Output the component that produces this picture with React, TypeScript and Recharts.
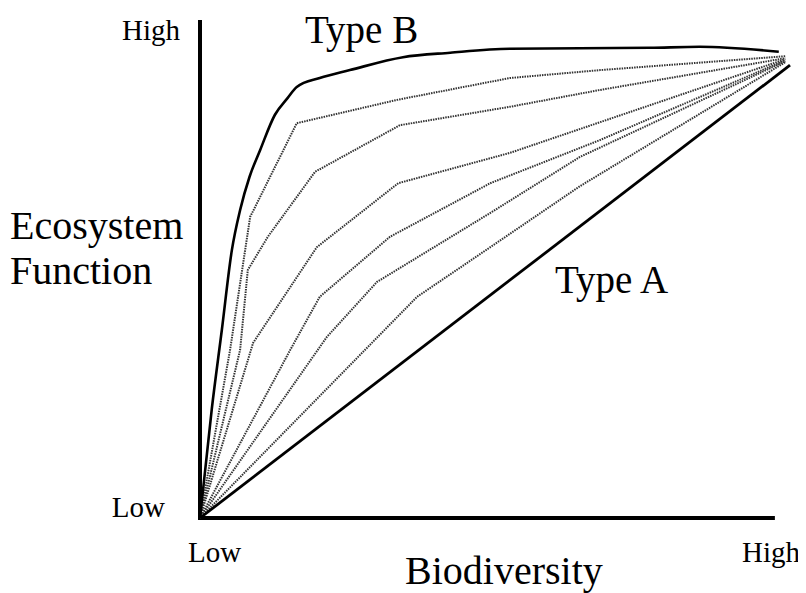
import { Line, LineChart, ReferenceLine, XAxis, YAxis } from "recharts";

// values, x = biodiversity (0-100), y = ecosystem function (0-100)
const typeB = [
  [0, 0], [2.0, 22.0], [3.7, 37.9], [5.4, 54.0], [6.8, 62.1], [8.4, 68.8], [10.2, 74.2], [12.7, 81.3],
  [14.8, 84.6], [16.4, 86.9], [20.3, 88.7], [25.4, 90.3], [34.4, 92.9], [42.4, 93.8], [52.5, 94.6],
  [76.3, 94.8], [84.7, 95.0], [98.1, 94.0],
];
const curve1 = [[0, 0], [5.1, 33.9], [8.5, 60.7], [16.4, 79.6], [33.4, 84.3], [52.5, 88.7], [67.8, 90.3], [99.2, 93.1]];
const curve2 = [[0, 0], [6.8, 33.9], [8.1, 50.0], [11.5, 56.7], [19.5, 69.8], [33.9, 79.2], [52.5, 82.9], [67.8, 86.3], [99.2, 92.7]];
const curve3 = [[0, 0], [9.0, 35.3], [19.8, 54.6], [33.6, 67.5], [52.5, 73.6], [67.8, 79.8], [99.2, 92.5]];
const curve4 = [[0, 0], [15.3, 33.9], [20.3, 44.6], [32.2, 56.7], [49.2, 67.5], [67.8, 76.2], [99.2, 92.3]];
const curve5 = [[0, 0], [21.5, 36.5], [30.0, 47.6], [49.2, 61.5], [64.4, 72.8], [99.2, 92.1]];
const curve6 = [[0, 0], [36.8, 44.6], [49.2, 54.6], [64.4, 66.9], [99.2, 91.9]];
const typeA = [[0, 0], [100, 91.3]];

const dotted = [curve1, curve2, curve3, curve4, curve5, curve6];

const xAxisEnd = 97.1;
const SERIF = "'Liberation Serif', 'Times New Roman', serif";

const toPoints = (pts: number[][]) => pts.map(([x, y]) => ({ x, y }));

export default function App() {
  return (
    <div style={{ position: "relative", width: 798, height: 585, fontFamily: SERIF }}>
      <LineChart width={790} height={577} margin={{ top: 14, right: 8, bottom: 67, left: 192 }}>
        <XAxis type="number" dataKey="x" domain={[0, 100]} hide />
        <YAxis type="number" dataKey="y" domain={[0, 100]} hide />
        <ReferenceLine segment={[{ x: 0, y: 0 }, { x: 0, y: 100 }]} stroke="#000" strokeWidth={4} strokeLinecap="square" />
        <ReferenceLine segment={[{ x: 0, y: 0 }, { x: xAxisEnd, y: 0 }]} stroke="#000" strokeWidth={4} strokeLinecap="square" />
        {dotted.map((pts, i) => (
          <Line
            key={i}
            data={toPoints(pts)}
            dataKey="y"
            type="linear"
            stroke="#333"
            strokeWidth={2}
            strokeDasharray="1.5 1"
            dot={false}
            isAnimationActive={false}
          />
        ))}
        <Line data={toPoints(typeB)} dataKey="y" type="monotone" stroke="#000" strokeWidth={2.6} dot={false} isAnimationActive={false} />
        <Line data={toPoints(typeA)} dataKey="y" type="linear" stroke="#000" strokeWidth={2.8} dot={false} isAnimationActive={false} />
      </LineChart>
      <svg width={798} height={585} style={{ position: "absolute", left: 0, top: 0, pointerEvents: "none", overflow: "visible" }}>
        <g fontFamily={SERIF} fill="#000">
          <text x={172} y={32} fontSize={29} textAnchor="end">High</text>
          <text x={157} y={509} fontSize={29} textAnchor="end">Low</text>
          <text x={180} y={554} fontSize={29}>Low</text>
          <text x={734} y={554} fontSize={29}>High</text>
          <text x={2} y={231} fontSize={40}>Ecosystem</text>
          <text x={2} y={276} fontSize={40}>Function</text>
          <text x={397} y={576} fontSize={40}>Biodiversity</text>
          <text x={297} y={35} fontSize={39}>Type B</text>
          <text x={547} y={285} fontSize={39}>Type A</text>
        </g>
      </svg>
    </div>
  );
}
